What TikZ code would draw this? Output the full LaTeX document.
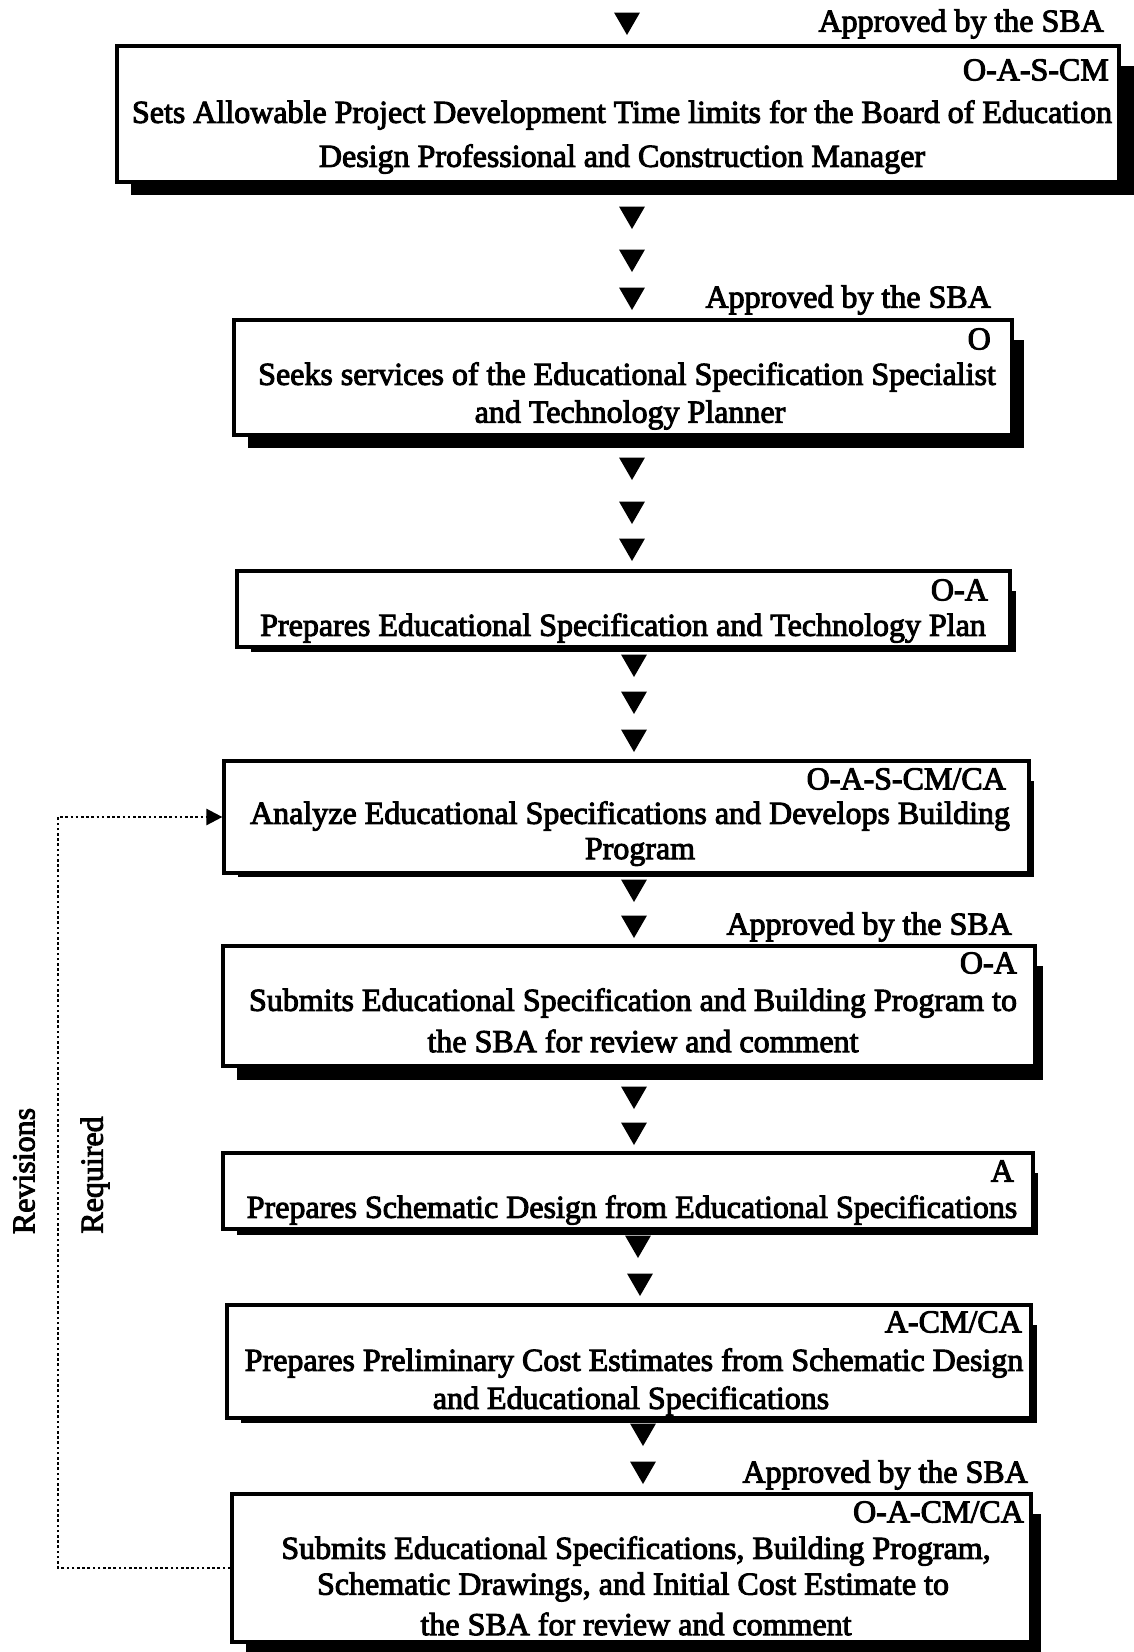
\documentclass[tikz,border=0pt]{standalone}
\usepackage{fontspec}
\usetikzlibrary{shapes.geometric,arrows.meta,calc}
\newfontfamily\heavyserif{Liberation Serif}[FakeBold=3]

% one process box with its drop shadow: name, left, top, right, bottom, shadow dx, shadow dy
\newcommand\flowbox[7]{%
  \node[stepbox, minimum width={#4-#2}, minimum height={#5-#3}] (#1) at ({(#2+#4)/2},{(#3+#5)/2}) {};
  \fill ($(#1.north east)+(0,22)$) rectangle ($(#1.south east)+(#6,#7)$);
  \fill ($(#1.south west)+(16,0)$) rectangle ($(#1.south east)+(#6,#7)$);
}

\begin{document}
\begin{tikzpicture}[x=1pt,y=-1pt,
  every node/.style={font=\heavyserif\fontsize{32}{36}\selectfont, inner sep=0pt},
  stepbox/.style={draw, line width=3.2pt, fill=white, rectangle, inner sep=0pt},
  flowmark/.style={regular polygon, regular polygon sides=3, shape border rotate=180,
                   fill=black, minimum size=30pt, inner sep=0pt},
  revline/.style={line width=2.6pt, dash pattern=on 2.6pt off 2.6pt,
                  -{Triangle[length=16pt,width=16pt]}},
  role/.style={anchor=east},
  approval/.style={anchor=east},
]
\useasboundingbox (0,0) rectangle (1134,1652);

% process boxes
\flowbox{b1}{117}{46}{1119}{182}{14}{11}
\flowbox{b2}{234}{320}{1012}{435}{10}{11}
\flowbox{b3}{237}{571}{1010}{647}{4}{3}
\flowbox{b4}{224}{761}{1029}{873}{3}{2}
\flowbox{b5}{223}{946}{1035}{1066}{6}{12}
\flowbox{b6}{223}{1153}{1033}{1229}{3}{4}
\flowbox{b7}{227}{1305}{1031}{1418}{4}{3}
\flowbox{b8}{232}{1494}{1031}{1642}{8}{10}

% flow marks between the boxes
\foreach \n/\x/\y in {m1/627/20, m2/632/214, m3/632/257, m4/632/295,
                      m5/632/465, m6/632/509, m7/632/546,
                      m8/634/662, m9/634/699, m10/634/737,
                      m11/634/887, m12/634/923,
                      m13/634/1094, m14/634/1130,
                      m15/638/1243, m16/640/1281,
                      m17/643/1431, m18/643/1469}
  \node[flowmark] (\n) at (\x,\y) {};

% approvals
\node[approval] (ap1) at (1104,24) {Approved by the SBA};
\node[approval] (ap2) at (991,300) {Approved by the SBA};
\node[approval] (ap3) at (1012,927) {Approved by the SBA};
\node[approval] (ap4) at (1028,1475) {Approved by the SBA};

% box 1
\node[role] (r1) at (1109,70) {O-A-S-CM};
\node (t1a) at (622,115) {Sets Allowable Project Development Time limits for the Board of Education};
\node (t1b) at (622,159) {Design Professional and Construction Manager};

% box 2
\node[role] (r2) at (991,339) {O};
\node (t2a) at (627,377) {Seeks services of the Educational Specification Specialist};
\node (t2b) at (630,415) {and Technology Planner};

% box 3
\node[role] (r3) at (988,590) {O-A};
\node (t3a) at (623,628) {Prepares Educational Specification and Technology Plan};

% box 4
\node[role] (r4) at (1006,779) {O-A-S-CM/CA};
\node (t4a) at (630,816) {Analyze Educational Specifications and Develops Building};
\node (t4b) at (640,852) {Program};

% box 5
\node[role] (r5) at (1017,963) {O-A};
\node (t5a) at (633,1003) {Submits Educational Specification and Building Program to};
\node (t5b) at (643,1041) {the SBA for review and comment};

% box 6
\node[role] (r6) at (1014,1171) {A};
\node (t6a) at (632,1210) {Prepares Schematic Design from Educational Specifications};

% box 7
\node[role] (r7) at (1022,1322) {A-CM/CA};
\node (t7a) at (634,1363) {Prepares Preliminary Cost Estimates from Schematic Design};
\node (t7b) at (631,1401) {and Educational Specifications};

% box 8
\node[role] (r8) at (1024,1512) {O-A-CM/CA};
\node (t8a) at (636,1551) {Submits Educational Specifications, Building Program,};
\node (t8b) at (633,1587) {Schematic Drawings, and Initial Cost Estimate to};
\node (t8c) at (636,1624) {the SBA for review and comment};

% revision loop
\coordinate (loop) at (58,0);
\draw[revline] (b8.west) -- (b8.west -| loop) |- (b4.west);
\node[rotate=90] (rv1) at (24,1171) {Revisions};
\node[rotate=90] (rv2) at (95,1175) {Required};

\end{tikzpicture}
\end{document}
